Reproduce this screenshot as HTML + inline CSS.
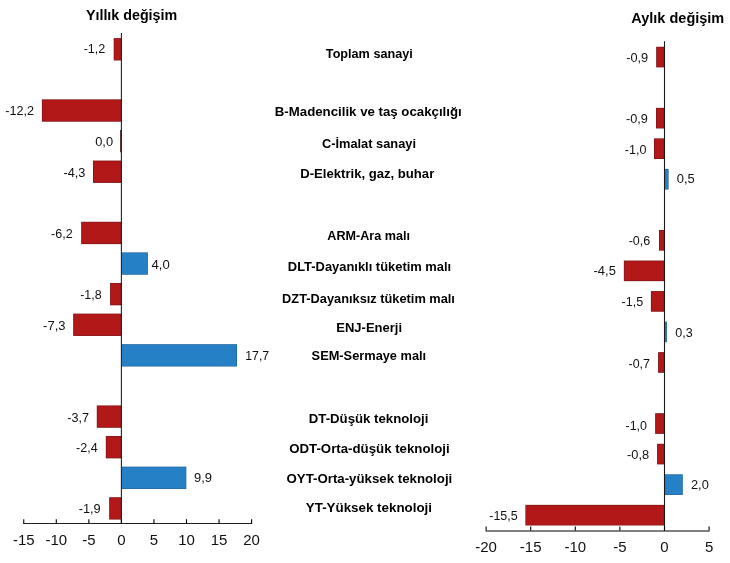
<!DOCTYPE html>
<html><head><meta charset="utf-8"><style>html,body{margin:0;padding:0;background:#fff}svg{display:block}</style></head><body>
<svg width="730" height="563" viewBox="0 0 730 563">
<rect width="730" height="563" fill="#fff"/>
<style>text{font-family:"Liberation Sans",Arial,sans-serif;fill:#000}.v{font-size:12px;fill:#111}.t{font-size:15px;fill:#111}.c{font-size:12px;font-weight:bold;fill:#000}.h{font-size:14px;font-weight:bold}</style>
<rect x="113.70" y="38.15" width="7.70" height="22.30" fill="#741216"/>
<rect x="114.30" y="38.75" width="6.50" height="21.10" fill="#B21818"/>
<text x="83.66" y="52.90" class="v" textLength="21.68" lengthAdjust="spacingAndGlyphs">-1,2</text>
<rect x="41.90" y="99.37" width="79.50" height="22.30" fill="#741216"/>
<rect x="42.50" y="99.97" width="78.30" height="21.10" fill="#B21818"/>
<text x="5.20" y="115.00" class="v" textLength="28.86" lengthAdjust="spacingAndGlyphs">-12,2</text>
<rect x="120.20" y="129.97" width="1.2" height="22.30" fill="#3a0a0c"/>
<text x="95.19" y="145.80" class="v" textLength="17.86" lengthAdjust="spacingAndGlyphs">0,0</text>
<rect x="93.00" y="160.58" width="28.40" height="22.30" fill="#741216"/>
<rect x="93.60" y="161.18" width="27.20" height="21.10" fill="#B21818"/>
<text x="63.50" y="176.70" class="v" textLength="21.91" lengthAdjust="spacingAndGlyphs">-4,3</text>
<rect x="81.20" y="221.80" width="40.20" height="22.30" fill="#741216"/>
<rect x="81.80" y="222.40" width="39.00" height="21.10" fill="#B21818"/>
<text x="51.03" y="238.20" class="v" textLength="21.59" lengthAdjust="spacingAndGlyphs">-6,2</text>
<rect x="121.40" y="252.40" width="26.45" height="22.30" fill="#205C92"/>
<rect x="122.00" y="253.00" width="25.25" height="21.10" fill="#2680C6"/>
<text x="151.45" y="268.60" class="v" textLength="18.27" lengthAdjust="spacingAndGlyphs">4,0</text>
<rect x="110.10" y="283.01" width="11.30" height="22.30" fill="#741216"/>
<rect x="110.70" y="283.61" width="10.10" height="21.10" fill="#B21818"/>
<text x="80.21" y="298.90" class="v" textLength="21.47" lengthAdjust="spacingAndGlyphs">-1,8</text>
<rect x="73.20" y="313.62" width="48.20" height="22.30" fill="#741216"/>
<rect x="73.80" y="314.22" width="47.00" height="21.10" fill="#B21818"/>
<text x="43.13" y="329.90" class="v" textLength="22.38" lengthAdjust="spacingAndGlyphs">-7,3</text>
<rect x="121.40" y="344.22" width="115.60" height="22.30" fill="#205C92"/>
<rect x="122.00" y="344.82" width="114.40" height="21.10" fill="#2680C6"/>
<text x="245.32" y="360.30" class="v" textLength="23.81" lengthAdjust="spacingAndGlyphs">17,7</text>
<rect x="96.80" y="405.44" width="24.60" height="22.30" fill="#741216"/>
<rect x="97.40" y="406.04" width="23.40" height="21.10" fill="#B21818"/>
<text x="67.19" y="421.50" class="v" textLength="21.77" lengthAdjust="spacingAndGlyphs">-3,7</text>
<rect x="105.80" y="436.04" width="15.60" height="22.30" fill="#741216"/>
<rect x="106.40" y="436.64" width="14.40" height="21.10" fill="#B21818"/>
<text x="76.02" y="452.20" class="v" textLength="21.65" lengthAdjust="spacingAndGlyphs">-2,4</text>
<rect x="121.40" y="466.65" width="64.90" height="22.30" fill="#205C92"/>
<rect x="122.00" y="467.25" width="63.70" height="21.10" fill="#2680C6"/>
<text x="193.99" y="482.00" class="v" textLength="18.00" lengthAdjust="spacingAndGlyphs">9,9</text>
<rect x="109.20" y="497.26" width="12.20" height="22.30" fill="#741216"/>
<rect x="109.80" y="497.86" width="11.00" height="21.10" fill="#B21818"/>
<text x="78.65" y="512.50" class="v" textLength="22.06" lengthAdjust="spacingAndGlyphs">-1,9</text>
<line x1="121.40" y1="33.00" x2="121.40" y2="523.40" stroke="#222" stroke-width="1.1"/>
<line x1="23.25" y1="523.50" x2="252.10" y2="523.50" stroke="#222" stroke-width="1.1"/>
<line x1="23.75" y1="519.20" x2="23.75" y2="523.40" stroke="#000" stroke-width="1.1"/>
<text x="23.75" y="544.70" class="t" text-anchor="middle">-15</text>
<line x1="56.30" y1="519.20" x2="56.30" y2="523.40" stroke="#000" stroke-width="1.1"/>
<text x="56.30" y="544.70" class="t" text-anchor="middle">-10</text>
<line x1="88.85" y1="519.20" x2="88.85" y2="523.40" stroke="#000" stroke-width="1.1"/>
<text x="88.85" y="544.70" class="t" text-anchor="middle">-5</text>
<line x1="121.40" y1="519.20" x2="121.40" y2="523.40" stroke="#000" stroke-width="1.1"/>
<text x="121.40" y="544.70" class="t" text-anchor="middle">0</text>
<line x1="153.95" y1="519.20" x2="153.95" y2="523.40" stroke="#000" stroke-width="1.1"/>
<text x="153.95" y="544.70" class="t" text-anchor="middle">5</text>
<line x1="186.50" y1="519.20" x2="186.50" y2="523.40" stroke="#000" stroke-width="1.1"/>
<text x="186.50" y="544.70" class="t" text-anchor="middle">10</text>
<line x1="219.05" y1="519.20" x2="219.05" y2="523.40" stroke="#000" stroke-width="1.1"/>
<text x="219.05" y="544.70" class="t" text-anchor="middle">15</text>
<line x1="251.60" y1="519.20" x2="251.60" y2="523.40" stroke="#000" stroke-width="1.1"/>
<text x="251.60" y="544.70" class="t" text-anchor="middle">20</text>
<rect x="656.20" y="46.77" width="8.30" height="20.60" fill="#741216"/>
<rect x="656.80" y="47.37" width="7.10" height="19.40" fill="#B21818"/>
<text x="626.17" y="61.80" class="v" textLength="22.03" lengthAdjust="spacingAndGlyphs">-0,9</text>
<rect x="656.00" y="107.85" width="8.50" height="20.60" fill="#741216"/>
<rect x="656.60" y="108.45" width="7.30" height="19.40" fill="#B21818"/>
<text x="626.01" y="123.20" class="v" textLength="21.92" lengthAdjust="spacingAndGlyphs">-0,9</text>
<rect x="654.00" y="138.39" width="10.50" height="20.60" fill="#741216"/>
<rect x="654.60" y="138.99" width="9.30" height="19.40" fill="#B21818"/>
<text x="624.87" y="154.20" class="v" textLength="21.63" lengthAdjust="spacingAndGlyphs">-1,0</text>
<rect x="664.50" y="168.93" width="4.10" height="20.60" fill="#205C92"/>
<rect x="665.10" y="169.53" width="2.90" height="19.40" fill="#2680C6"/>
<text x="676.72" y="183.40" class="v" textLength="18.00" lengthAdjust="spacingAndGlyphs">0,5</text>
<rect x="659.00" y="230.01" width="5.50" height="20.60" fill="#741216"/>
<rect x="659.60" y="230.61" width="4.30" height="19.40" fill="#B21818"/>
<text x="628.68" y="245.00" class="v" textLength="21.62" lengthAdjust="spacingAndGlyphs">-0,6</text>
<rect x="623.85" y="260.55" width="40.65" height="20.60" fill="#741216"/>
<rect x="624.45" y="261.15" width="39.45" height="19.40" fill="#B21818"/>
<text x="593.50" y="275.40" class="v" textLength="22.35" lengthAdjust="spacingAndGlyphs">-4,5</text>
<rect x="650.90" y="291.09" width="13.60" height="20.60" fill="#741216"/>
<rect x="651.50" y="291.69" width="12.40" height="19.40" fill="#B21818"/>
<text x="621.50" y="305.80" class="v" textLength="21.65" lengthAdjust="spacingAndGlyphs">-1,5</text>
<rect x="664.50" y="321.63" width="2.40" height="20.60" fill="#205C92"/>
<rect x="665.10" y="322.23" width="1.20" height="19.40" fill="#2680C6"/>
<text x="675.32" y="336.90" class="v" textLength="17.46" lengthAdjust="spacingAndGlyphs">0,3</text>
<rect x="658.10" y="352.17" width="6.40" height="20.60" fill="#741216"/>
<rect x="658.70" y="352.77" width="5.20" height="19.40" fill="#B21818"/>
<text x="628.50" y="367.60" class="v" textLength="21.43" lengthAdjust="spacingAndGlyphs">-0,7</text>
<rect x="655.15" y="413.25" width="9.35" height="20.60" fill="#741216"/>
<rect x="655.75" y="413.85" width="8.15" height="19.40" fill="#B21818"/>
<text x="625.48" y="429.50" class="v" textLength="21.53" lengthAdjust="spacingAndGlyphs">-1,0</text>
<rect x="657.10" y="443.79" width="7.40" height="20.60" fill="#741216"/>
<rect x="657.70" y="444.39" width="6.20" height="19.40" fill="#B21818"/>
<text x="627.01" y="459.30" class="v" textLength="22.13" lengthAdjust="spacingAndGlyphs">-0,8</text>
<rect x="664.50" y="474.33" width="18.25" height="20.60" fill="#205C92"/>
<rect x="665.10" y="474.93" width="17.05" height="19.40" fill="#2680C6"/>
<text x="690.98" y="488.90" class="v" textLength="17.84" lengthAdjust="spacingAndGlyphs">2,0</text>
<rect x="525.40" y="504.87" width="139.10" height="20.60" fill="#741216"/>
<rect x="526.00" y="505.47" width="137.90" height="19.40" fill="#B21818"/>
<text x="489.25" y="519.70" class="v" textLength="28.43" lengthAdjust="spacingAndGlyphs">-15,5</text>
<line x1="664.50" y1="41.20" x2="664.50" y2="530.60" stroke="#1a1a1a" stroke-width="1.1"/>
<line x1="485.60" y1="531.00" x2="709.60" y2="531.00" stroke="#000" stroke-width="1.1"/>
<line x1="486.10" y1="526.40" x2="486.10" y2="530.60" stroke="#000" stroke-width="1.1"/>
<text x="486.10" y="551.90" class="t" text-anchor="middle">-20</text>
<line x1="530.70" y1="526.40" x2="530.70" y2="530.60" stroke="#000" stroke-width="1.1"/>
<text x="530.70" y="551.90" class="t" text-anchor="middle">-15</text>
<line x1="575.30" y1="526.40" x2="575.30" y2="530.60" stroke="#000" stroke-width="1.1"/>
<text x="575.30" y="551.90" class="t" text-anchor="middle">-10</text>
<line x1="619.90" y1="526.40" x2="619.90" y2="530.60" stroke="#000" stroke-width="1.1"/>
<text x="619.90" y="551.90" class="t" text-anchor="middle">-5</text>
<line x1="664.50" y1="526.40" x2="664.50" y2="530.60" stroke="#000" stroke-width="1.1"/>
<text x="664.50" y="551.90" class="t" text-anchor="middle">0</text>
<line x1="709.10" y1="526.40" x2="709.10" y2="530.60" stroke="#000" stroke-width="1.1"/>
<text x="709.10" y="551.90" class="t" text-anchor="middle">5</text>
<text x="325.85" y="57.70" class="c" textLength="86.92" lengthAdjust="spacingAndGlyphs">Toplam sanayi</text>
<text x="274.82" y="115.80" class="c" textLength="186.87" lengthAdjust="spacingAndGlyphs">B-Madencilik ve taş ocakçılığı</text>
<text x="321.94" y="147.90" class="c" textLength="94.08" lengthAdjust="spacingAndGlyphs">C-İmalat sanayi</text>
<text x="300.28" y="178.20" class="c" textLength="133.97" lengthAdjust="spacingAndGlyphs">D-Elektrik, gaz, buhar</text>
<text x="327.34" y="240.40" class="c" textLength="82.67" lengthAdjust="spacingAndGlyphs">ARM-Ara malı</text>
<text x="287.84" y="270.90" class="c" textLength="163.38" lengthAdjust="spacingAndGlyphs">DLT-Dayanıklı tüketim malı</text>
<text x="282.11" y="302.60" class="c" textLength="172.82" lengthAdjust="spacingAndGlyphs">DZT-Dayanıksız tüketim malı</text>
<text x="336.29" y="331.90" class="c" textLength="65.74" lengthAdjust="spacingAndGlyphs">ENJ-Enerji</text>
<text x="311.64" y="360.10" class="c" textLength="114.52" lengthAdjust="spacingAndGlyphs">SEM-Sermaye malı</text>
<text x="308.80" y="422.50" class="c" textLength="119.63" lengthAdjust="spacingAndGlyphs">DT-Düşük teknoloji</text>
<text x="289.22" y="452.80" class="c" textLength="160.43" lengthAdjust="spacingAndGlyphs">ODT-Orta-düşük teknoloji</text>
<text x="286.50" y="483.40" class="c" textLength="165.78" lengthAdjust="spacingAndGlyphs">OYT-Orta-yüksek teknoloji</text>
<text x="305.81" y="511.70" class="c" textLength="126.26" lengthAdjust="spacingAndGlyphs">YT-Yüksek teknoloji</text>
<text x="85.96" y="20.30" class="h" textLength="91.20" lengthAdjust="spacingAndGlyphs">Yıllık değişim</text>
<text x="631.33" y="22.90" class="h" textLength="92.92" lengthAdjust="spacingAndGlyphs">Aylık değişim</text>
</svg>
</body></html>
